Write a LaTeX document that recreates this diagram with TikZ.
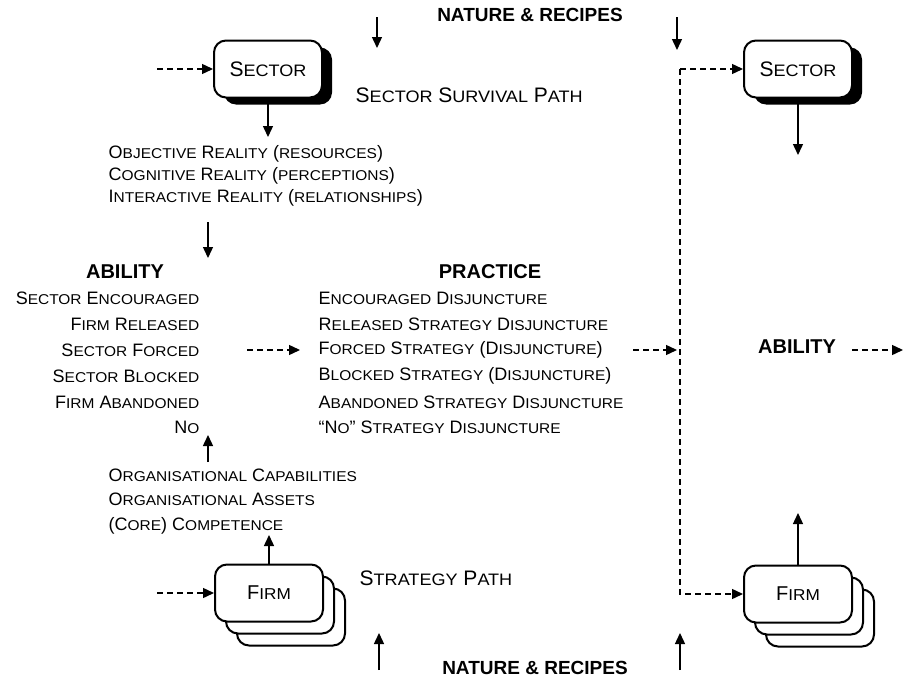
\documentclass[tikz,border=0pt]{standalone}
\usepackage{fontspec}
\setmainfont{Liberation Sans}
\usetikzlibrary{arrows.meta,shadows}
\newcommand{\sm}[1]{\scalebox{0.86}[0.79]{#1}}

\begin{document}
\begin{tikzpicture}[x=1pt,y=-1pt,line width=1.4pt,
  >={Triangle[length=11pt,width=10pt]},
  every node/.style={inner sep=0pt},
  sectorbox/.style={draw,fill=white,rounded corners=12pt,minimum width=108pt,minimum height=57pt,line width=2pt,
    font=\fontsize{21}{24}\selectfont,drop shadow={shadow xshift=10pt,shadow yshift=-7pt,fill=black,opacity=1}},
  firmbox/.style={draw,fill=white,rounded corners=12pt,minimum width=108pt,minimum height=57pt,line width=2pt,
    font=\fontsize{20}{24}\selectfont,double copy shadow={shadow xshift=11pt,shadow yshift=-12pt}},
  item/.style={font=\fontsize{18}{20}\selectfont},
  path/.style={font=\fontsize{21}{24}\selectfont},
  head/.style={font=\bfseries\fontsize{20}{22}\selectfont},
  flow/.style={->},
  hint/.style={->,dash pattern=on 6pt off 4pt}]
  \useasboundingbox (0,0) rectangle (903,680);

  % boxes
  \node[sectorbox] (sec1) at (268,69)  {S\sm{ECTOR}};
  \node[sectorbox] (sec2) at (798,69)  {S\sm{ECTOR}};
  \node[firmbox]   (firm1) at (269,593) {F\sm{IRM}};
  \node[firmbox]   (firm2) at (798,594) {F\sm{IRM}};

  % titles
  \node[head,font=\bfseries\fontsize{19}{22}\selectfont] (natop)  at (530,15)  {NATURE \& RECIPES};
  \node[head,font=\bfseries\fontsize{19}{22}\selectfont] (natbot) at (535,668) {NATURE \& RECIPES};
  \node[path,anchor=west] (survival) at (355,95) {S\sm{ECTOR} S\sm{URVIVAL} P\sm{ATH}};
  \node[path,anchor=west] (stratpath) at (359,578) {S\sm{TRATEGY} P\sm{ATH}};

  % realities
  \node[item,anchor=west] (obj)   at (108,154) {O\sm{BJECTIVE} R\sm{EALITY} (\sm{RESOURCES})};
  \node[item,anchor=west] (cog)   at (108,176) {C\sm{OGNITIVE} R\sm{EALITY} (\sm{PERCEPTIONS})};
  \node[item,anchor=west] (inter) at (108,198) {I\sm{NTERACTIVE} R\sm{EALITY} (\sm{RELATIONSHIPS})};

  % ability
  \node[head] (ability) at (125,272) {ABILITY};
  \node[item,anchor=east] (aenc) at (200,298) {S\sm{ECTOR} E\sm{NCOURAGED}};
  \node[item,anchor=east] (arel) at (200,324) {F\sm{IRM} R\sm{ELEASED}};
  \node[item,anchor=east] (afor) at (200,350) {S\sm{ECTOR} F\sm{ORCED}};
  \node[item,anchor=east] (ablo) at (200,376) {S\sm{ECTOR} B\sm{LOCKED}};
  \node[item,anchor=east] (aaba) at (200,402) {F\sm{IRM} A\sm{BANDONED}};
  \node[item,anchor=east] (ano)  at (200,427) {N\sm{O}};

  % practice
  \node[head] (practice) at (490,272) {PRACTICE};
  \node[item,anchor=west] (penc) at (318,298) {E\sm{NCOURAGED} D\sm{ISJUNCTURE}};
  \node[item,anchor=west] (prel) at (318,324) {R\sm{ELEASED} S\sm{TRATEGY} D\sm{ISJUNCTURE}};
  \node[item,anchor=west] (pfor) at (318,350) {F\sm{ORCED} S\sm{TRATEGY} (D\sm{ISJUNCTURE})};
  \node[item,anchor=west] (pblo) at (318,376) {B\sm{LOCKED} S\sm{TRATEGY} (D\sm{ISJUNCTURE})};
  \node[item,anchor=west] (paba) at (318,402) {A\sm{BANDONED} S\sm{TRATEGY} D\sm{ISJUNCTURE}};
  \node[item,anchor=west] (pno)  at (318,427) {``N\sm{O}'' S\sm{TRATEGY} D\sm{ISJUNCTURE}};

  % organisation
  \node[item,anchor=west] (orgcap) at (108,475) {O\sm{RGANISATIONAL} C\sm{APABILITIES}};
  \node[item,anchor=west] (orgass) at (108,499) {O\sm{RGANISATIONAL} A\sm{SSETS}};
  \node[item,anchor=west] (corec)  at (108,526) {(C\sm{ORE}) C\sm{OMPETENCE}};

  \node[head] (ability2) at (797,347) {ABILITY};

  % free ends
  \coordinate (nt1) at (377,17);  \coordinate (nt1e) at (377,48);
  \coordinate (nt2) at (677,17);  \coordinate (nt2e) at (677,50);
  \coordinate (nb1) at (379,670); \coordinate (nb1e) at (379,633);
  \coordinate (nb2) at (680,670); \coordinate (nb2e) at (680,633);
  \coordinate (inS) at (157,69);  \coordinate (inF) at (157,593);
  \coordinate (rdown) at (208,222); \coordinate (rdowne) at (208,258);
  \coordinate (oup) at (208,462);   \coordinate (oupe) at (208,435);
  \coordinate (ap) at (247,350);    \coordinate (ape) at (300,350);
  \coordinate (pv) at (633,350);    \coordinate (pve) at (677,350);
  \coordinate (vtop) at (680,69);
  \coordinate (sdown) at (798,155); \coordinate (fup) at (798,513);
  \coordinate (aout) at (852,350);  \coordinate (aoute) at (903,350);
  \coordinate (sec1e) at (268,137); \coordinate (firm1e) at (269,535);

  \path[flow] (nt1) edge (nt1e)
              (nt2) edge (nt2e)
              (nb1) edge (nb1e)
              (nb2) edge (nb2e)
              (sec1.south) edge (sec1e)
              (firm1.north) edge (firm1e)
              (rdown) edge (rdowne)
              (oup) edge (oupe)
              (sec2.south) edge (sdown)
              (firm2.north) edge (fup);

  \path[hint] (inS) edge (sec1.west)
              (inF) edge (firm1.west)
              (ap) edge (ape)
              (pv) edge (pve)
              (aout) edge (aoute);
  \draw[hint] (vtop) -- (sec2.west);
  \draw[hint] (vtop) |- (firm2.west);
\end{tikzpicture}
\end{document}
